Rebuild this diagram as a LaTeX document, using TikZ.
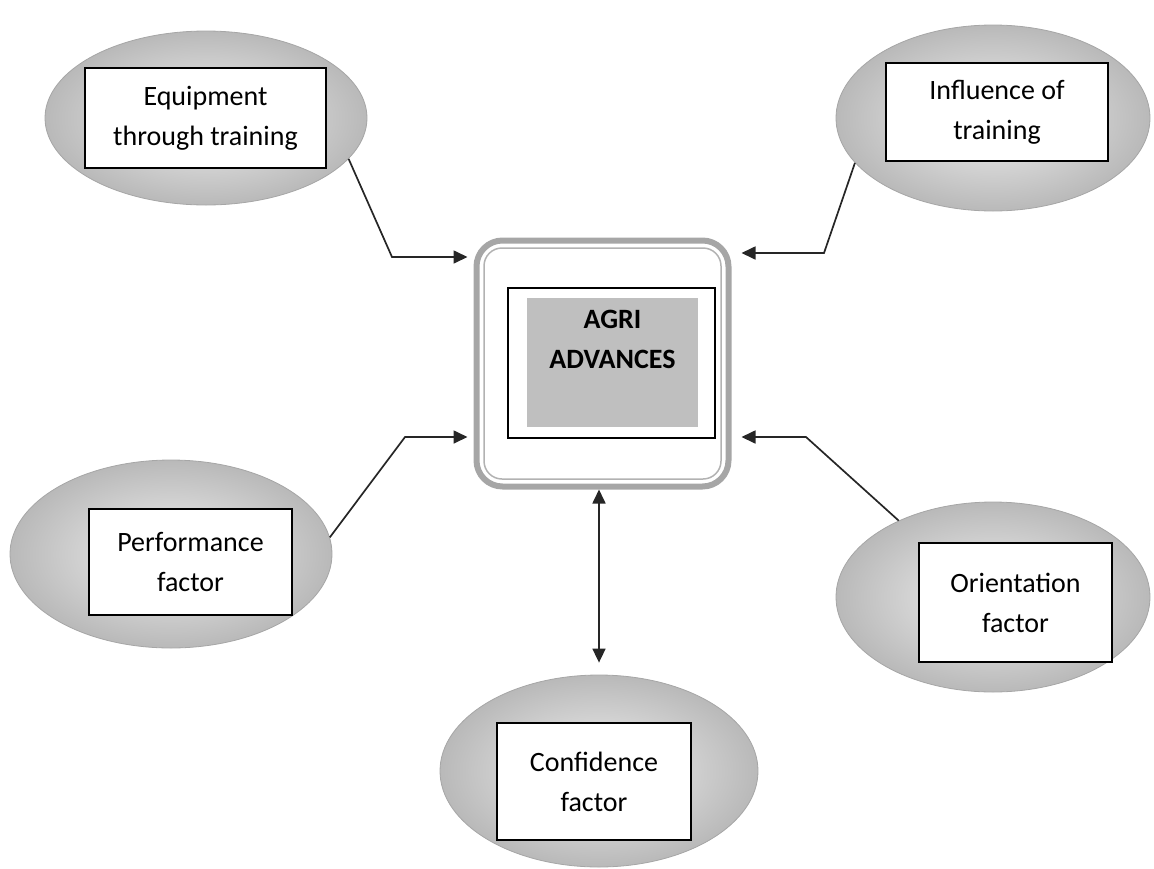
\documentclass[tikz,border=0pt]{standalone}
\usepackage{fontspec}
\setmainfont{Carlito}
\usetikzlibrary{shapes.geometric,arrows.meta,calc}
\begin{document}
\begin{tikzpicture}[x=1pt,y=-1pt,
  blob/.style={ellipse,draw=gray!70,line width=0.8pt,inner color=gray!12,outer color=gray!55,inner sep=0pt},
  labelbox/.style={draw=black,fill=white,line width=1.4pt,inner sep=0pt,align=center,
    font=\fontsize{28}{40}\selectfont},
  link/.style={draw=black!85,line width=1.7pt},
  tip/.style={-{Triangle[length=14pt,width=13pt]}},
  twotips/.style={{Triangle[length=14pt,width=13pt]}-{Triangle[length=14pt,width=13pt]}},
]
\useasboundingbox (0,0) rectangle (1154,868);

% outer factor ellipses
\node[blob,minimum width=322pt,minimum height=174pt] (e1) at (206,118) {};
\node[blob,minimum width=314pt,minimum height=186pt] (e2) at (993,118) {};
\node[blob,minimum width=322pt,minimum height=188pt] (e3) at (171,554) {};
\node[blob,minimum width=314pt,minimum height=190pt] (e4) at (993,597) {};
\node[blob,minimum width=318pt,minimum height=192pt] (e5) at (599,771) {};

% labels inside the ellipses
\node[labelbox,minimum width=241pt,minimum height=100pt] (b1) at (205.5,118) {Equipment\\through training};
\node[labelbox,minimum width=222pt,minimum height=98pt] (b2) at (997,112) {Influence of\\training};
\node[labelbox,minimum width=203pt,minimum height=106pt] (b3) at (190.5,562) {Performance\\factor};
\node[labelbox,minimum width=193pt,minimum height=119pt] (b4) at (1015.5,602.5) {Orientation\\factor};
\node[labelbox,minimum width=194pt,minimum height=117pt] (b5) at (594,781.5) {Confidence\\factor};

% central block
\node[draw=gray!70,line width=6pt,rounded corners=26pt,minimum width=252pt,minimum height=246pt] (core) at (602.5,363.5) {};
\node[draw=gray!60,line width=1.5pt,rounded corners=18pt,minimum width=237pt,minimum height=231pt] (corein) at (602.5,363.5) {};
\node[draw=black,line width=1.4pt,minimum width=207pt,minimum height=150pt,inner sep=0pt] (frame) at (611.5,363) {};
\node[fill=gray!50,minimum width=171pt,minimum height=129pt,inner sep=0pt] (panel) at (612.5,362.5) {};
\node[anchor=north,inner sep=0pt,align=center,font=\fontsize{28}{40}\selectfont\bfseries] (title) at (612.5,310) {AGRI\\ADVANCES};

% connectors
\coordinate (k1) at (392,257);
\coordinate (k2) at (824,253);
\coordinate (k3) at (405,437);
\coordinate (k4) at (806,437);
\draw[link,tip,shorten >=6pt] (e1.-16) -- (k1) -- (k1 -| core.west);
\draw[link,tip,shorten >=10pt] (e2.-162) -- (k2) -- (k2 -| core.east);
\draw[link,tip,shorten >=6pt] (e3.6) -- (k3) -- (k3 -| core.west);
\draw[link,tip,shorten >=10pt] (e4.141) -- (k4) -- (k4 -| core.east);
\draw[link,twotips,shorten >=12pt] (e5.north |- core.south) -- (e5.north);
\end{tikzpicture}
\end{document}
